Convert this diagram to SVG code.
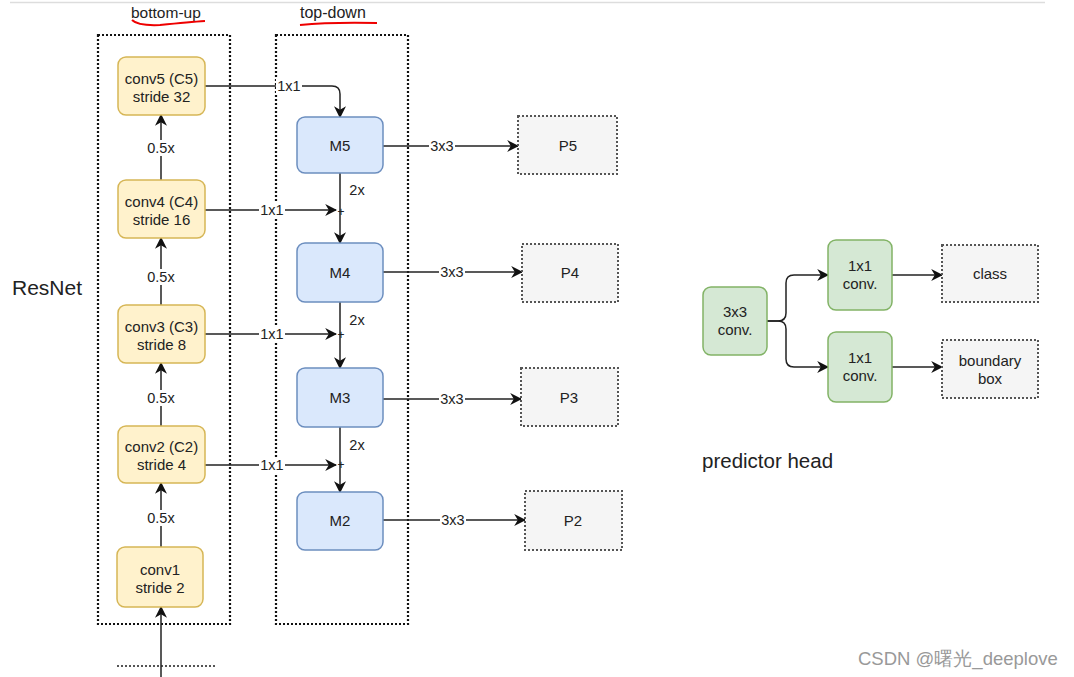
<svg xmlns="http://www.w3.org/2000/svg" width="1074" height="677" viewBox="0 0 1074 677">
<defs>
<marker id="arr" viewBox="0 0 10 10" refX="9" refY="5" markerWidth="12" markerHeight="12" markerUnits="userSpaceOnUse" orient="auto">
<path d="M0,0 L10,5 L0,10 L3,5 Z" fill="#111"/>
</marker>
<style>
text{font-family:"Liberation Sans",Arial,sans-serif;fill:#222;}
.y{fill:#fff2cc;stroke:#d6b656;stroke-width:1.5;}
.b{fill:#dae8fc;stroke:#6c8ebf;stroke-width:1.5;}
.g{fill:#d5e8d4;stroke:#82b366;stroke-width:1.5;}
.p{fill:#f5f5f5;stroke:#555;stroke-width:2;stroke-dasharray:2 2;}
.grp{fill:none;stroke:#111;stroke-width:2.2;stroke-dasharray:2 2;}
.t{font-size:15px;text-anchor:middle;}
.lb{font-size:14.5px;text-anchor:middle;}
.c{fill:none;stroke:#222;stroke-width:1.5;}
.ca{fill:none;stroke:#222;stroke-width:1.5;marker-end:url(#arr);}
.bg{fill:#fff;}
</style>
</defs>
<rect width="1074" height="677" fill="#fff"/>
<line x1="10" y1="2.5" x2="1045" y2="2.5" stroke="#ddd" stroke-width="1.5"/>

<g id="titles">
<text x="131" y="18" font-size="15.5">bottom-up</text>
<path d="M132,20 Q138,26 160,25 Q190,22 205,21" fill="none" stroke="#e00" stroke-width="2"/>
<text x="300" y="18" font-size="16">top-down</text>
<path d="M300,25 Q330,22 377,23" fill="none" stroke="#e00" stroke-width="2"/>
<text x="12" y="295" font-size="21">ResNet</text>
<text x="702" y="468" font-size="20.5">predictor head</text>
<text x="858" y="665" font-size="18.5" style="fill:#999" font-family="'Liberation Sans','Noto Sans CJK SC',sans-serif">CSDN @曙光_deeplove</text>
</g>

<g id="group-boxes">
<rect class="grp" x="98" y="35" width="132" height="589"/>
<rect class="grp" x="276" y="35" width="132" height="589"/>
<line x1="117" y1="666" x2="215" y2="666" stroke="#555" stroke-width="2" stroke-dasharray="2 2"/>
</g>

<g id="connectors">
<!-- bottom-up arrows -->
<line class="ca" x1="161" y1="677" x2="161" y2="607"/>
<line class="ca" x1="161" y1="547" x2="161" y2="483"/>
<line class="ca" x1="161" y1="426" x2="161" y2="363"/>
<line class="ca" x1="161" y1="305" x2="161" y2="238"/>
<line class="ca" x1="161" y1="180" x2="161" y2="115"/>
<rect class="bg" x="144" y="510" width="34" height="16"/><text class="lb" x="161" y="523">0.5x</text>
<rect class="bg" x="144" y="390" width="34" height="16"/><text class="lb" x="161" y="403">0.5x</text>
<rect class="bg" x="144" y="269" width="34" height="16"/><text class="lb" x="161" y="282">0.5x</text>
<rect class="bg" x="144" y="140" width="34" height="16"/><text class="lb" x="161" y="153">0.5x</text>
<!-- lateral 1x1 -->
<path class="ca" d="M205,86 L332,86 Q340,86 340,94 L340,117"/>
<rect class="bg" x="276" y="79" width="26" height="15"/><text class="lb" x="289" y="91">1x1</text>
<line class="ca" x1="205" y1="210" x2="336" y2="210"/>
<rect class="bg" x="259" y="203" width="26" height="15"/><text class="lb" x="272" y="215">1x1</text>
<line class="ca" x1="205" y1="334" x2="336" y2="334"/>
<rect class="bg" x="259" y="327" width="26" height="15"/><text class="lb" x="272" y="339">1x1</text>
<line class="ca" x1="205" y1="465" x2="336" y2="465"/>
<rect class="bg" x="259" y="458" width="26" height="15"/><text class="lb" x="272" y="470">1x1</text>
<!-- top-down 2x -->
<line class="ca" x1="340" y1="173" x2="340" y2="243"/>
<line class="ca" x1="340" y1="302" x2="340" y2="368"/>
<line class="ca" x1="340" y1="427" x2="340" y2="492"/>
<text class="lb" x="357" y="195">2x</text>
<text class="lb" x="357" y="325">2x</text>
<text class="lb" x="357" y="450">2x</text>
<text x="341" y="216" font-size="12" text-anchor="middle">+</text>
<text x="341" y="339" font-size="12" text-anchor="middle">+</text>
<text x="341" y="469" font-size="12" text-anchor="middle">+</text>
<!-- 3x3 -->
<line class="ca" x1="383" y1="146" x2="518" y2="146"/>
<rect class="bg" x="429" y="139" width="26" height="15"/><text class="lb" x="442" y="151">3x3</text>
<line class="ca" x1="383" y1="272" x2="522" y2="272"/>
<rect class="bg" x="439" y="265" width="26" height="15"/><text class="lb" x="452" y="277">3x3</text>
<line class="ca" x1="383" y1="399" x2="521" y2="399"/>
<rect class="bg" x="439" y="392" width="26" height="15"/><text class="lb" x="452" y="404">3x3</text>
<line class="ca" x1="383" y1="520" x2="525" y2="520"/>
<rect class="bg" x="440" y="513" width="26" height="15"/><text class="lb" x="453" y="525">3x3</text>
<!-- predictor head -->
<path class="ca" d="M767,321 L778,321 Q786,321 786,313 L786,283 Q786,275 794,275 L828,275"/>
<path class="ca" d="M767,321 L778,321 Q786,321 786,329 L786,359 Q786,367 794,367 L828,367"/>
<line class="ca" x1="892" y1="275" x2="942" y2="275"/>
<line class="ca" x1="892" y1="367" x2="942" y2="367"/>
</g>

<g id="conv5"><rect class="y" x="118" y="57" width="87" height="58" rx="8"/><text class="t" x="161.5" y="84">conv5 (C5)</text><text class="t" x="161.5" y="102">stride 32</text></g>
<g id="conv4"><rect class="y" x="118" y="180" width="87" height="58" rx="8"/><text class="t" x="161.5" y="207">conv4 (C4)</text><text class="t" x="161.5" y="225">stride 16</text></g>
<g id="conv3"><rect class="y" x="118" y="305" width="87" height="58" rx="8"/><text class="t" x="161.5" y="332">conv3 (C3)</text><text class="t" x="161.5" y="350">stride 8</text></g>
<g id="conv2"><rect class="y" x="118" y="426" width="87" height="57" rx="8"/><text class="t" x="161.5" y="452">conv2 (C2)</text><text class="t" x="161.5" y="470">stride 4</text></g>
<g id="conv1"><rect class="y" x="117" y="547" width="86" height="60" rx="8"/><text class="t" x="160" y="575">conv1</text><text class="t" x="160" y="593">stride 2</text></g>

<g id="M5"><rect class="b" x="297" y="117" width="86" height="56" rx="8"/><text class="t" x="340" y="151">M5</text></g>
<g id="M4"><rect class="b" x="297" y="243" width="86" height="59" rx="8"/><text class="t" x="340" y="278">M4</text></g>
<g id="M3"><rect class="b" x="297" y="368" width="86" height="59" rx="8"/><text class="t" x="340" y="403">M3</text></g>
<g id="M2"><rect class="b" x="297" y="492" width="86" height="58" rx="8"/><text class="t" x="340" y="526">M2</text></g>

<g id="P5"><rect class="p" x="518" y="116" width="99" height="58"/><text class="t" x="568" y="151">P5</text></g>
<g id="P4"><rect class="p" x="522" y="244" width="96" height="58"/><text class="t" x="570" y="278">P4</text></g>
<g id="P3"><rect class="p" x="521" y="368" width="97" height="58"/><text class="t" x="569" y="403">P3</text></g>
<g id="P2"><rect class="p" x="525" y="491" width="97" height="59"/><text class="t" x="573" y="526">P2</text></g>

<g id="conv3x3"><rect class="g" x="703" y="287" width="64" height="68" rx="8"/><text class="t" x="735" y="317">3x3</text><text class="t" x="735" y="335">conv.</text></g>
<g id="conv1x1a"><rect class="g" x="828" y="240" width="64" height="70" rx="8"/><text class="t" x="860" y="271">1x1</text><text class="t" x="860" y="289">conv.</text></g>
<g id="conv1x1b"><rect class="g" x="828" y="332" width="64" height="70" rx="8"/><text class="t" x="860" y="363">1x1</text><text class="t" x="860" y="381">conv.</text></g>
<g id="class"><rect class="p" x="942" y="245" width="96" height="57"/><text class="t" x="990" y="279">class</text></g>
<g id="bbox"><rect class="p" x="942" y="340" width="96" height="58"/><text class="t" x="990" y="366">boundary</text><text class="t" x="990" y="384">box</text></g>
</svg>
